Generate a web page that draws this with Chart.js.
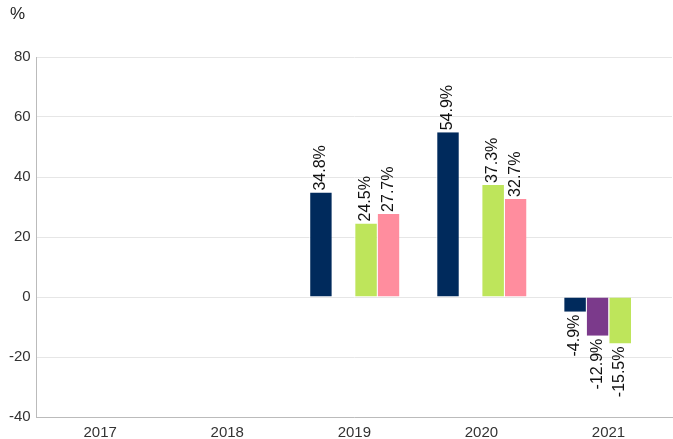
<!DOCTYPE html>
<html>
<head>
<meta charset="utf-8">
<script src="https://cdn.jsdelivr.net/npm/chart.js@4/dist/chart.umd.min.js"></script>
<style>
  html, body { margin: 0; padding: 0; background: #fff; }
  #wrap { width: 673px; height: 439px; }
</style>
</head>
<body>
<div id="wrap"><canvas id="myChart" width="673" height="439"></canvas></div>
<script>
// chart data
var years = ['2017', '2018', '2019', '2020', '2021'];
var seriesA = [null, null, 34.8, 54.9, -4.9];
var seriesB = [null, null, null, null, -12.9];
var seriesC = [null, null, 24.5, 37.3, -15.5];
var seriesD = [null, null, 27.7, 32.7, null];
var yTicks = [-40, -20, 0, 20, 40, 60, 80];

var font = 'Liberation Sans, Arial, sans-serif';

// draws the rotated value labels at the end of each bar
var barLabels = {
    id: 'barLabels',
    afterDatasetsDraw: function (chart) {
        var ctx = chart.ctx;
        ctx.save();
        ctx.font = '16px ' + font;
        ctx.fillStyle = '#111';
        ctx.textBaseline = 'middle';
        chart.data.datasets.forEach(function (ds, i) {
            var meta = chart.getDatasetMeta(i);
            meta.data.forEach(function (bar, j) {
                var v = ds.data[j];
                if (v === null || v === undefined) return;
                ctx.save();
                ctx.translate(bar.x, bar.y);
                ctx.rotate(-Math.PI / 2);
                if (v >= 0) {
                    ctx.textAlign = 'left';
                    ctx.fillText(v.toFixed(1) + '%', 2, 0);
                } else {
                    ctx.textAlign = 'right';
                    ctx.fillText(v.toFixed(1) + '%', -3, 0);
                }
                ctx.restore();
            });
        });
        ctx.restore();
    }
};

// the "%" unit at the top left
var unitLabel = {
    id: 'unitLabel',
    afterDraw: function (chart) {
        var ctx = chart.ctx;
        ctx.save();
        ctx.font = '17px ' + font;
        ctx.fillStyle = '#222';
        ctx.textAlign = 'left';
        ctx.textBaseline = 'top';
        ctx.fillText('%', 10, 6);
        ctx.restore();
    }
};

window.onload = function () {
    var ctx = document.getElementById('myChart').getContext('2d');

    new Chart(ctx, {
        type: 'bar',
        data: {
            labels: years,
            datasets: [
                { label: 'A', data: seriesA, backgroundColor: '#002a5c' },
                { label: 'B', data: seriesB, backgroundColor: '#7b3a8b' },
                { label: 'C', data: seriesC, backgroundColor: '#bee55b' },
                { label: 'D', data: seriesD, backgroundColor: '#ff8d9e' }
            ]
        },
        options: {
            responsive: false,
            animation: false,
            layout: { padding: { top: 57, left: 3, right: 1, bottom: -10 } },
            datasets: {
                bar: {
                    categoryPercentage: 0.71,
                    barPercentage: 1,
                    borderColor: '#ffffff',
                    borderWidth: { left: 1, right: 0, top: 0, bottom: 0 }
                }
            },
            plugins: {
                legend: { display: false },
                tooltip: { enabled: false }
            },
            scales: {
                x: {
                    grid: { display: false, drawTicks: false },
                    border: { color: '#bbbbbb' },
                    ticks: { color: '#333', font: { family: font, size: 15 }, padding: 7 }
                },
                y: {
                    min: -40,
                    max: 80,
                    afterBuildTicks: function (axis) {
                        axis.ticks = yTicks.map(function (v) { return { value: v }; });
                    },
                    grid: { color: '#e6e6e6', drawTicks: false },
                    border: { color: '#bbbbbb' },
                    ticks: { color: '#333', font: { family: font, size: 15 }, padding: 6 }
                }
            }
        },
        plugins: [barLabels, unitLabel]
    });
};
</script>
</body>
</html>
